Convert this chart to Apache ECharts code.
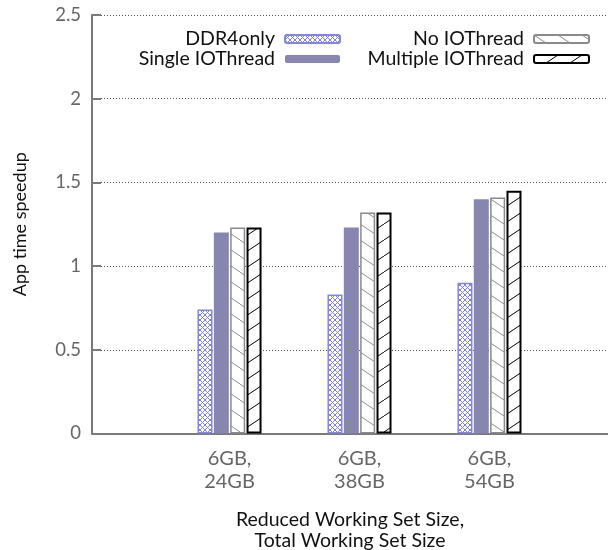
<!DOCTYPE html>
<html><head><meta charset="utf-8">
<script src="https://cdn.jsdelivr.net/npm/echarts@6/dist/echarts.min.js"></script>
<style>html,body{margin:0;padding:0;background:#fff}#c{width:608px;height:550px}</style>
</head><body><div id="c"></div>
<script>
const categories = ['6GB,\n24GB', '6GB,\n38GB', '6GB,\n54GB'];
const seriesNames = ['DDR4only', 'Single IOThread', 'No IOThread', 'Multiple IOThread'];
const ddr4only = [0.74, 0.83, 0.90];
const singleIOThread = [1.20, 1.23, 1.40];
const noIOThread = [1.23, 1.32, 1.41];
const multipleIOThread = [1.23, 1.32, 1.45];
const categoryPositions = [0, 1, 2];

function makePattern(w, h, draw) {
  const c = document.createElement('canvas');
  c.width = w; c.height = h;
  const ctx = c.getContext('2d');
  ctx.fillStyle = '#fff';
  ctx.fillRect(0, 0, w, h);
  draw(ctx, w, h);
  return { image: c, repeat: 'repeat' };
}
const crossPat = makePattern(5, 5, (ctx, w, h) => {
  ctx.strokeStyle = '#8080d4'; ctx.lineWidth = 1;
  ctx.beginPath();
  ctx.moveTo(-1, -1); ctx.lineTo(w + 1, h + 1);
  ctx.moveTo(-1, h + 1); ctx.lineTo(w + 1, -1);
  ctx.stroke();
});
const backPat = makePattern(24, 16, (ctx, w, h) => {
  ctx.strokeStyle = '#8a8a8a'; ctx.lineWidth = 1;
  ctx.beginPath();
  ctx.moveTo(-3, -2); ctx.lineTo(w + 3, h + 2);
  ctx.stroke();
});
const slashPat = makePattern(24, 16, (ctx, w, h) => {
  ctx.strokeStyle = '#000'; ctx.lineWidth = 1;
  ctx.beginPath();
  ctx.moveTo(-3, h + 2); ctx.lineTo(w + 3, -2);
  ctx.stroke();
});

const FONT = 'Lato';
const pts = arr => arr.map((v, i) => [categoryPositions[i], v]);

const barCommon = { type: 'bar', barWidth: 15, barGap: '9%' };
const series = [
  Object.assign({}, barCommon, { name: seriesNames[0], data: pts(ddr4only),
    itemStyle: { color: crossPat, borderColor: '#8585d6', borderWidth: 1.5 } }),
  Object.assign({}, barCommon, { name: seriesNames[1], data: pts(singleIOThread),
    itemStyle: { color: '#8686b0', borderWidth: 0 } }),
  Object.assign({}, barCommon, { name: seriesNames[2], data: pts(noIOThread),
    itemStyle: { color: backPat, borderColor: '#8a8a8a', borderWidth: 1.5 } }),
  Object.assign({}, barCommon, { name: seriesNames[3], data: pts(multipleIOThread),
    itemStyle: { color: slashPat, borderColor: '#000', borderWidth: 2 } })
];

const legendCommon = {
  orient: 'vertical', align: 'right', padding: 0, itemGap: 0,
  itemWidth: 55, itemHeight: 8, selectedMode: false,
  textStyle: { fontFamily: FONT, fontSize: 19.5, lineHeight: 20, color: '#111', padding: [0, 5, 0, 0] }
};

const chart = echarts.init(document.getElementById('c'), null, { renderer: 'canvas' });
chart.setOption({
  animation: false,
  backgroundColor: '#fff',
  grid: { left: 92, right: 0, top: 15, bottom: 116.5, containLabel: false, outerBoundsMode: 'none' },
  legend: [
    Object.assign({}, legendCommon, { data: [seriesNames[0], seriesNames[1]], right: 267, top: 29 }),
    Object.assign({}, legendCommon, { data: [seriesNames[2], seriesNames[3]], right: 18, top: 29 })
  ],
  xAxis: {
    type: 'value', min: -1.058, max: 2.912,
    axisLine: { show: true, onZero: false, lineStyle: { color: '#7a7a7a', width: 2 } },
    axisTick: { show: false },
    splitLine: { show: false },
    axisLabel: {
      customValues: categoryPositions,
      formatter: v => categories[Math.round(v)] || '',
      fontFamily: FONT, fontSize: 20, color: '#666', lineHeight: 23, margin: 14
    },
    name: 'Reduced Working Set Size,\nTotal Working Set Size',
    nameLocation: 'middle', nameGap: 76,
    nameTextStyle: { fontFamily: FONT, fontSize: 19.5, color: '#111', lineHeight: 21 }
  },
  yAxis: {
    type: 'value', min: 0, max: 2.5, interval: 0.5,
    axisLine: { show: true, onZero: false, lineStyle: { color: '#7a7a7a', width: 2 } },
    axisTick: { show: true, inside: true, length: 9, lineStyle: { color: '#7a7a7a', width: 2 } },
    splitLine: { show: true, lineStyle: { color: '#555', width: 1, type: [1, 2] } },
    axisLabel: { fontFamily: FONT, fontSize: 18.5, color: '#666', margin: 11 },
    name: 'App time speedup', nameLocation: 'middle', nameGap: 63, nameRotate: 90,
    nameTextStyle: { fontFamily: FONT, fontSize: 18, color: '#111' }
  },
  series: series
});
</script>
</body></html>
